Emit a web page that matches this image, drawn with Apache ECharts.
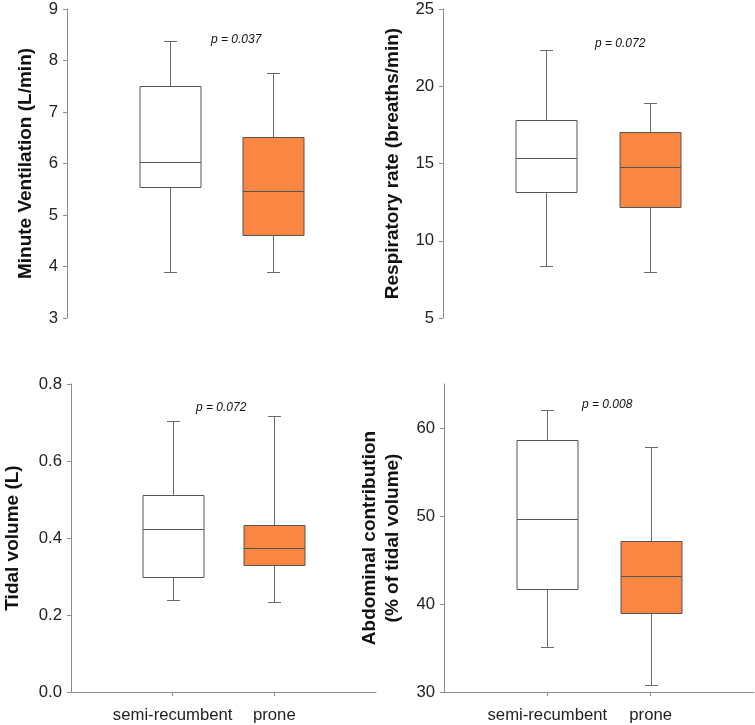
<!DOCTYPE html>
<html>
<head>
<meta charset="utf-8">
<script src="https://cdn.jsdelivr.net/npm/echarts@6/dist/echarts.min.js"></script>
<style>
  html, body { margin: 0; padding: 0; background: #fff; }
  #chart { width: 755px; height: 725px; }
</style>
</head>
<body>
<div id="chart"></div>
<script>
// categories (outer entries only pad the axis)
var categories = ['', 'semi-recumbent', 'prone', ''];

// [min, Q1, median, Q3, max]
var mvSemi = [3.89, 5.54, 6.03, 7.50, 8.38];
var mvProne = [3.89, 4.62, 5.47, 6.51, 7.76];
var rrSemi = [8.34, 13.16, 15.33, 17.79, 22.37];
var rrProne = [7.95, 12.18, 14.77, 17.06, 18.94];
var vtSemi = [0.238, 0.300, 0.424, 0.512, 0.703];
var vtProne = [0.233, 0.331, 0.375, 0.434, 0.717];
var abSemi = [35.1, 41.7, 49.7, 58.6, 62.0];
var abProne = [30.8, 39.0, 43.2, 47.2, 57.8];

var pValues = ['p = 0.037', 'p = 0.072', 'p = 0.072', 'p = 0.008'];
var yNames = ['Minute Ventilation (L/min)', 'Respiratory rate (breaths/min)',
  'Tidal volume (L)', 'Abdominal contribution\n(% of tidal volume)'];
var yTicks4 = [30, 40, 50, 60];

var boxFills = ['#ffffff', '#fa8642'];
var FONT = 'Liberation Sans, Arial, sans-serif';

function boxData(a, b) {
  return [[1].concat(a), [2].concat(b)];
}

function renderBox(params, api) {
  var x = api.value(0);
  var lo = api.coord([x, api.value(1)]);
  var q1 = api.coord([x, api.value(2)]);
  var md = api.coord([x, api.value(3)]);
  var q3 = api.coord([x, api.value(4)]);
  var hi = api.coord([x, api.value(5)]);
  var cx = Math.round(lo[0]) + 0.5;
  var bw = 61, cap = 13;
  var r = function (v) { return Math.round(v) + 0.5; };
  var wStyle = { stroke: '#6a6a6a', lineWidth: 1 };
  var bStyle = { stroke: '#555555', lineWidth: 1 };
  return {
    type: 'group',
    children: [
      { type: 'line', shape: { x1: cx, y1: r(hi[1]), x2: cx, y2: r(q3[1]) }, style: wStyle },
      { type: 'line', shape: { x1: cx, y1: r(q1[1]), x2: cx, y2: r(lo[1]) }, style: wStyle },
      { type: 'line', shape: { x1: cx - cap / 2, y1: r(hi[1]), x2: cx + cap / 2, y2: r(hi[1]) }, style: wStyle },
      { type: 'line', shape: { x1: cx - cap / 2, y1: r(lo[1]), x2: cx + cap / 2, y2: r(lo[1]) }, style: wStyle },
      { type: 'rect', shape: { x: cx - bw / 2, y: r(q3[1]), width: bw, height: Math.round(q1[1]) - Math.round(q3[1]) },
        style: { fill: boxFills[params.dataIndex], stroke: '#555555', lineWidth: 1 } },
      { type: 'line', shape: { x1: cx - bw / 2, y1: r(md[1]), x2: cx + bw / 2, y2: r(md[1]) }, style: bStyle }
    ]
  };
}

var grids = [
  { left: 67, top: 9, width: 309, height: 309 },
  { left: 443, top: 9, width: 310, height: 309 },
  { left: 67, top: 384, width: 309, height: 308 },
  { left: 444, top: 384, width: 310, height: 308 }
];

var yRanges = [
  { min: 3, max: 9, interval: 1, gap: 30 },
  { min: 5, max: 25, interval: 5, gap: 39 },
  { min: 0, max: 0.8, interval: 0.2, gap: 47 },
  { min: 30, max: 65, interval: 10, gap: 40 }
];

var xAxes = [], yAxes = [], series = [];
var allData = [boxData(mvSemi, mvProne), boxData(rrSemi, rrProne), boxData(vtSemi, vtProne), boxData(abSemi, abProne)];

for (var i = 0; i < 4; i++) {
  var bottom = i >= 2;
  xAxes.push({
    type: 'category', gridIndex: i, data: categories, boundaryGap: false,
    axisLine: { show: bottom, lineStyle: { color: '#8c8c8c', width: 1 } },
    axisTick: { show: bottom, length: 4, lineStyle: { color: '#8c8c8c' },
      interval: function (idx) { return idx === 1 || idx === 2; } },
    axisLabel: { show: bottom, fontSize: 16.7, color: '#222', fontFamily: FONT, margin: 15,
      interval: function (idx) { return idx === 1 || idx === 2; } },
    splitLine: { show: false }
  });
  var yr = yRanges[i];
  var ya = {
    type: 'value', gridIndex: i, min: yr.min, max: yr.max, interval: yr.interval,
    name: yNames[i], nameLocation: 'middle', nameGap: yr.gap,
    nameTextStyle: { fontSize: 19, fontWeight: 'bold', color: '#111', fontFamily: FONT, lineHeight: 23 },
    axisLine: { show: true, lineStyle: { color: '#8c8c8c', width: 1 } },
    axisTick: { show: true, length: 4, lineStyle: { color: '#8c8c8c' } },
    axisLabel: { fontSize: 16.7, color: '#222', fontFamily: FONT, margin: 9 },
    splitLine: { show: false }
  };
  if (i === 2) {
    ya.axisLabel.formatter = function (v) { return v.toFixed(1); };
  }
  if (i === 3) {
    ya.axisLabel.customValues = yTicks4;
    ya.axisTick.customValues = yTicks4;
  }
  yAxes.push(ya);
  series.push({
    type: 'custom', xAxisIndex: i, yAxisIndex: i,
    renderItem: renderBox, data: allData[i],
    encode: { x: 0, y: [1, 2, 3, 4, 5] },
    silent: true
  });
}

var pPos = [[237, 42], [621, 46], [222, 410], [608, 407]];
var graphics = pValues.map(function (t, k) {
  return {
    type: 'text', left: pPos[k][0] - 26, top: pPos[k][1] - 8,
    style: { text: t, fontSize: 12, fontStyle: 'italic', fill: '#111', font: 'italic 12px ' + FONT }
  };
});

var chart = echarts.init(document.getElementById('chart'));
chart.setOption({
  animation: false,
  backgroundColor: '#fff',
  grid: grids,
  xAxis: xAxes,
  yAxis: yAxes,
  series: series,
  graphic: graphics
});
</script>
</body>
</html>
